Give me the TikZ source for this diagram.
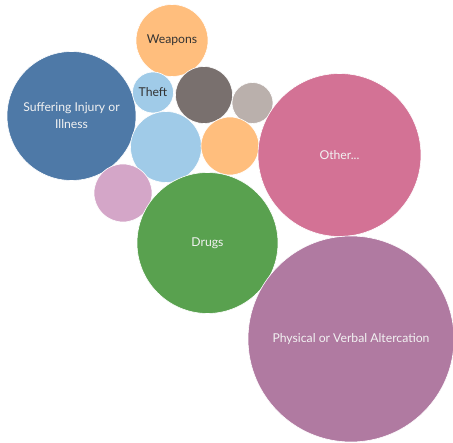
\documentclass[tikz,border=0pt]{standalone}
\usepackage{fontspec}
\setmainfont{Lato}
\definecolor{tabblue}{HTML}{4E79A7}
\definecolor{taborange}{HTML}{FFBE7D}
\definecolor{tabgreen}{HTML}{59A14F}
\definecolor{tabpink}{HTML}{D37295}
\definecolor{tabpurple}{HTML}{B07AA1}
\definecolor{tabgray}{HTML}{79706E}
\definecolor{tablightgray}{HTML}{BAB0AC}
\definecolor{tablightblue}{HTML}{A0CBE8}
\definecolor{tablilac}{HTML}{D4A6C8}
\tikzset{
    bubble/.style={circle, inner sep=0pt, draw=white, line width=0.6pt, minimum size=#1, align=center, font=\fontsize{12.2}{17}\selectfont},
    light/.style={text=white!95!black},
    dark/.style={text=black!80}
}
\begin{document}
\begin{tikzpicture}[x=1pt, y=-1pt]
    \useasboundingbox (0,0) rectangle (453,443);
    \node[bubble=72pt, fill=taborange, dark] (weapons) at (172, 40.5) {Weapons};
    \node[bubble=129pt, fill=tabblue, light] (injury) at (71.5, 116) {Suffering Injury or\\Illness};
    \node[bubble=41pt, fill=tablightblue, dark] (theft) at (153, 92.5) {Theft};
    \node[bubble=57pt, fill=tabgray] (grayA) at (204, 95) {};
    \node[bubble=41pt, fill=tablightgray] (grayB) at (252.5, 103) {};
    \node[bubble=71pt, fill=tablightblue] (blueB) at (166, 147) {};
    \node[bubble=58pt, fill=taborange] (orangeB) at (230, 146) {};
    \node[bubble=58pt, fill=tablilac] (lilac) at (123, 193) {};
    \node[bubble=163pt, fill=tabpink, light] (other) at (339.5, 155) {Other...};
    \node[bubble=141pt, fill=tabgreen, light] (drugs) at (207.5, 243) {Drugs};
    \node[bubble=206pt, fill=tabpurple, light] (altercation) at (351, 339) {Physical or Verbal Altercation};
\end{tikzpicture}
\end{document}
